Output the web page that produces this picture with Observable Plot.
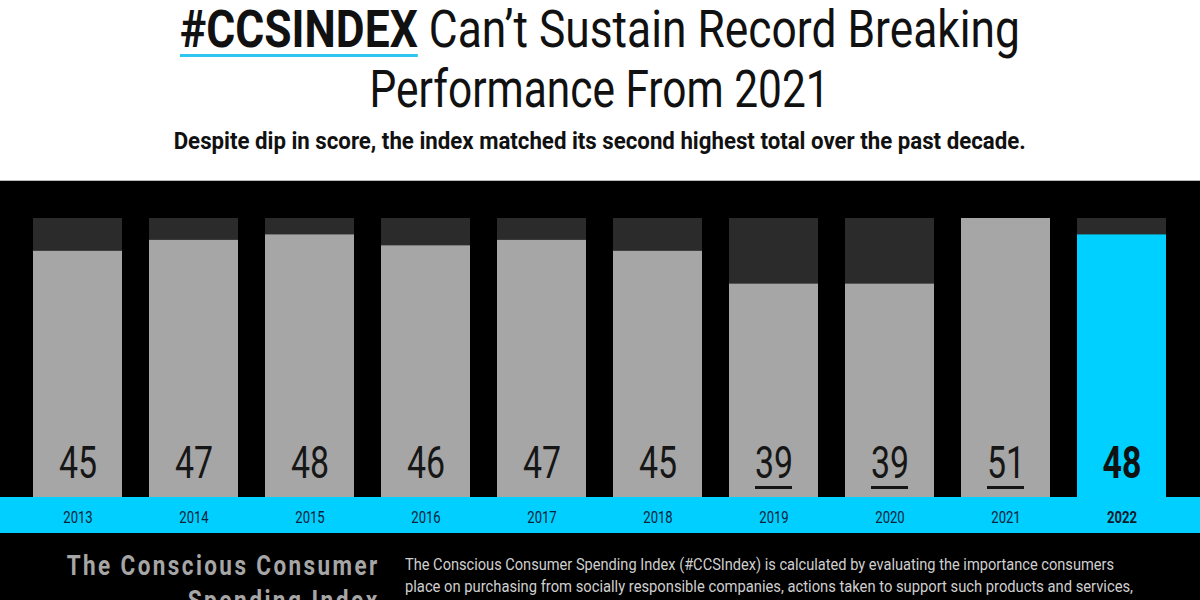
<!DOCTYPE html>
<html><head><meta charset="utf-8">
<script src="https://cdn.jsdelivr.net/npm/d3@7"></script>
<script src="https://cdn.jsdelivr.net/npm/@observablehq/plot@0.6"></script>
<style>
html,body{margin:0;padding:0;width:1200px;height:600px;overflow:hidden;background:#fff;font-family:Roboto,sans-serif;}
#head{height:180px;position:relative;color:#111;}
.line{position:absolute;left:0;width:1200px;text-align:center;white-space:nowrap;}
.fit{display:inline-block;transform-origin:center center;}
#t1{top:0px;font-size:51px;line-height:60px;}
#t2{top:60px;font-size:51px;line-height:60px;}
#t1 b{text-decoration:underline;text-decoration-color:#2ec6ef;text-decoration-thickness:3px;text-underline-offset:7px;}
#sub{top:125px;font-size:24px;line-height:32px;font-weight:bold;}
#chart{background:#000;height:353px;border-top:1px solid #bbb;box-sizing:border-box;}
#foot{background:#000;height:67px;position:relative;overflow:hidden;}
#foot .left{position:absolute;left:-300px;width:680px;top:15px;text-align:right;color:#a6a6a6;font-size:28px;font-weight:bold;letter-spacing:3px;line-height:35px;white-space:nowrap;}
#foot .left span{display:inline-block;transform-origin:right center;}
#foot .right{position:absolute;left:405px;top:21px;color:#cfcfcf;font-size:16px;line-height:22px;white-space:nowrap;}
#foot .right span{display:inline-block;transform-origin:left center;}
</style></head>
<body>
<div id="head">
  <div class="line" id="t1"><span class="fit" data-w="840"><b>#CCSINDEX</b> Can’t Sustain Record Breaking</span></div>
  <div class="line" id="t2"><span class="fit" data-w="460">Performance From 2021</span></div>
  <div class="line" id="sub"><span class="fit" data-w="852">Despite dip in score, the index matched its second highest total over the past decade.</span></div>
</div>
<div id="chart"></div>
<div id="foot">
  <div class="left"><span data-w="313">The Conscious Consumer</span><br><span data-w="192">Spending Index</span></div>
  <div class="right"><span data-w="709">The Conscious Consumer Spending Index (#CCSIndex) is calculated by evaluating the importance consumers</span><br><span data-w="728">place on purchasing from socially responsible companies, actions taken to support such products and services,</span></div>
</div>
<script>
const years = ["2013","2014","2015","2016","2017","2018","2019","2020","2021","2022"];
const scores = [45, 47, 48, 46, 47, 45, 39, 39, 51, 48];
const underlinedYears = ["2019","2020","2021"];
const highlightYear = "2022";

const rows = years.map((y, i) => ({year: y, score: scores[i]}));
const maxScore = d3.max(scores);

const band = (index, scales, values, dims) =>
  d3.create("svg:rect")
    .attr("x", 0).attr("width", dims.width)
    .attr("y", dims.height - dims.marginBottom).attr("height", dims.marginBottom)
    .attr("fill", "#00cfff").node();

const plot = Plot.plot({
  width: 1200, height: 352,
  marginTop: 37, marginBottom: 36, marginLeft: 32, marginRight: 34,
  style: {background: "#000", fontFamily: "Roboto, sans-serif", overflow: "visible"},
  x: {type: "band", domain: years, paddingInner: 0.233, paddingOuter: 0, axis: null},
  y: {domain: [0, maxScore], axis: null},
  marks: [
    band,
    Plot.barY(rows, {x: "year", y: () => maxScore, fill: "#2b2b2b"}),
    Plot.barY(rows, {x: "year", y: "score", fill: d => d.year === highlightYear ? "#00d0ff" : "#a6a6a6"}),
    Plot.tickY(rows.filter(d => underlinedYears.includes(d.year)),
      {x: "year", y: () => 0, dy: -10, inset: 26, stroke: "#151515", strokeWidth: 3}),
    Plot.text(rows.filter(d => d.year !== highlightYear),
      {x: "year", text: d => String(d.score), frameAnchor: "bottom", lineAnchor: "middle", dy: -34, fontSize: 44, fill: "#161616"}),
    Plot.text(rows.filter(d => d.year === highlightYear),
      {x: "year", text: d => String(d.score), frameAnchor: "bottom", lineAnchor: "middle", dy: -34, fontSize: 44, fontWeight: "bold", fill: "#111"}),
    Plot.text(rows.filter(d => d.year !== highlightYear),
      {x: "year", text: "year", frameAnchor: "bottom", lineAnchor: "middle", dy: 20, fontSize: 17, fill: "#0b2238"}),
    Plot.text(rows.filter(d => d.year === highlightYear),
      {x: "year", text: "year", frameAnchor: "bottom", lineAnchor: "middle", dy: 20, fontSize: 17, fontWeight: "bold", fill: "#0b1a2a"})
  ]
});
// condense svg text horizontally
d3.select(plot).selectAll("text").each(function() {
  const t = this.getAttribute("transform") || "";
  this.setAttribute("transform", t + " scale(0.77,1)");
});
document.getElementById("chart").appendChild(plot);

// condense html text to the reference widths
document.querySelectorAll("[data-w]").forEach(el => {
  const w = el.getBoundingClientRect().width;
  const k = +el.dataset.w / w;
  el.style.transform = `scaleX(${k})`;
});
</script>
</body></html>
